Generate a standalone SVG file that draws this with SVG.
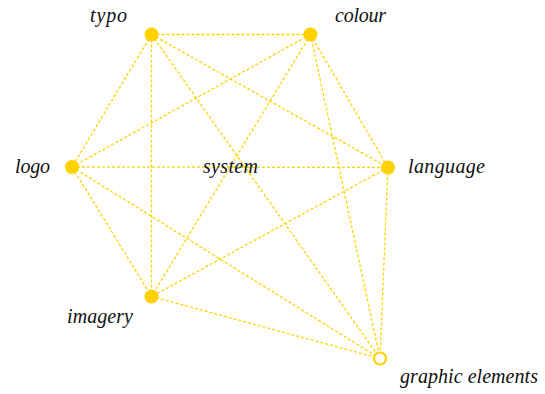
<svg xmlns="http://www.w3.org/2000/svg" width="545" height="394" viewBox="0 0 545 394">
<style>
.e{stroke:#FFD200;stroke-width:1.3;stroke-dasharray:3,2;fill:none}
.n{fill:#FFD200}
.h{fill:#fff;stroke:#FFD200;stroke-width:2.2}
.t{font-family:"Liberation Serif",serif;font-style:italic;font-size:20px;fill:#111}
</style>
<rect width="545" height="394" fill="#fff"/>
<g id="connectors">
<line class="e" x1="151.5" y1="34.5" x2="310.5" y2="34.5"/>
<line class="e" x1="151.5" y1="34.5" x2="72" y2="167"/>
<line class="e" x1="151.5" y1="34.5" x2="388" y2="167.5"/>
<line class="e" x1="151.5" y1="34.5" x2="151.5" y2="296.5"/>
<line class="e" x1="151.5" y1="34.5" x2="380" y2="358.5"/>
<line class="e" x1="310.5" y1="34.5" x2="72" y2="167"/>
<line class="e" x1="310.5" y1="34.5" x2="388" y2="167.5"/>
<line class="e" x1="310.5" y1="34.5" x2="151.5" y2="296.5"/>
<line class="e" x1="310.5" y1="34.5" x2="380" y2="358.5"/>
<line class="e" x1="72" y1="167" x2="388" y2="167.5"/>
<line class="e" x1="72" y1="167" x2="151.5" y2="296.5"/>
<line class="e" x1="72" y1="167" x2="380" y2="358.5"/>
<line class="e" x1="388" y1="167.5" x2="151.5" y2="296.5"/>
<line class="e" x1="388" y1="167.5" x2="380" y2="358.5"/>
<line class="e" x1="151.5" y1="296.5" x2="380" y2="358.5"/>
</g>
<g id="typo"><circle class="n" cx="151.5" cy="34.5" r="7"/><text class="t" x="90" y="22" textLength="37">typo</text></g>
<g id="colour"><circle class="n" cx="310.5" cy="34.5" r="7"/><text class="t" x="335" y="22" textLength="51">colour</text></g>
<g id="logo"><circle class="n" cx="72" cy="167" r="7"/><text class="t" x="15" y="173" textLength="35">logo</text></g>
<g id="system"><text class="t" x="203" y="173" textLength="55">system</text></g>
<g id="language"><circle class="n" cx="388" cy="167.5" r="7"/><text class="t" x="408" y="173" textLength="77">language</text></g>
<g id="imagery"><circle class="n" cx="151.5" cy="296.5" r="7"/><text class="t" x="67" y="323" textLength="66">imagery</text></g>
<g id="graphic-elements"><circle class="h" cx="380" cy="358.5" r="6"/><text class="t" x="400" y="383" textLength="138">graphic elements</text></g>
</svg>
